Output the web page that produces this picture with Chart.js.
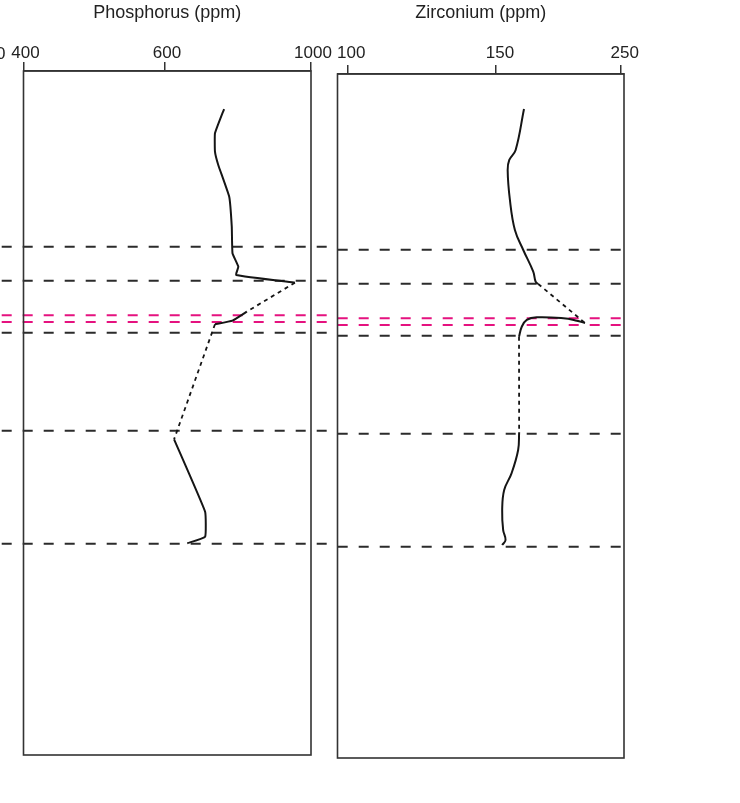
<!DOCTYPE html>
<html>
<head>
<meta charset="utf-8">
<script src="https://cdn.jsdelivr.net/npm/chart.js@4.4.1/dist/chart.umd.min.js"></script>
<style>
  html, body { margin: 0; padding: 0; background: #fff; }
  #wrap { position: relative; width: 740px; height: 803px; overflow: hidden; }
  .panel { position: absolute; top: 0; height: 803px; }
  #cutLabel { position: absolute; left: -4px; top: 44px; font: 17px "Liberation Sans", Arial, sans-serif; color: #222; }
</style>
</head>
<body>
<div id="wrap">
  <div class="panel" style="left:0;width:345px"><canvas id="phosphorusChartCanvas"></canvas></div>
  <div class="panel" style="left:320px;width:420px"><canvas id="zirconiumChartCanvas"></canvas></div>
  <div id="cutLabel">0</div>
</div>
<script>
// depth is in % of the log height (0 = top of box, 100 = bottom)
const boundaryDepths = [25.7, 30.65, 38.25, 52.6, 69.1];
const pinkDepths = [35.7, 36.7];

const phosphorusTicks = [400, 600, 1000];
const phosphorusDepth = [5.56, 9.11, 11.8, 13.74, 18.38, 22.76, 26.65, 28.61, 29.82, 30.95, 35.19, 36.5, 37.03, 53.85, 64.43, 68.08, 69.05];
const phosphorusPpm = [762, 737, 737, 746, 776, 783, 785, 801, 795, 956, 824, 785, 737, 625, 710, 710, 661];
// 1 = inferred (dotted) segment from point i to i+1
const phosphorusInferred = [0, 0, 0, 0, 0, 0, 0, 0, 0, 1, 0, 0, 1, 0, 0, 0];

const zirconiumTicks = [100, 150, 250];
const zirconiumDepth = [5.12, 11.11, 12.57, 14.04, 18.42, 22.81, 25.73, 28.9, 30.37, 30.7, 36.4, 36.07, 35.72, 35.57, 35.96, 36.95, 38.4, 52.38, 54.97, 58.38, 60.82, 63.74, 66.67, 68.13, 68.86];
const zirconiumPpm = [172.5, 165.8, 160.7, 159.4, 161.2, 165.2, 171.9, 179.9, 181.8, 183.9, 221.4, 214.8, 204.1, 182.7, 174.7, 170.7, 168.5, 168.6, 167.8, 162.5, 156.6, 155.0, 155.8, 157.7, 155.0];
const zirconiumInferred = [0, 0, 0, 0, 0, 0, 0, 0, 0, 1, 0, 0, 0, 0, 0, 0, 1, 0, 0, 0, 0, 0, 0, 0];

// the printed axes are not linear: value -> fraction of box width
const AXIS_KNOTS = {
    xP: [[400, 0], [600, 0.492], [1000, 1]],
    xZ: [[100, 0.0342], [150, 0.553], [250, 0.9885]]
};

class PiecewiseScale extends Chart.LinearScale {
    static id = 'piecewise';
    toDecimal(value) {
        const k = AXIS_KNOTS[this.id];
        let i = 1;
        while (i < k.length - 1 && value > k[i][0]) i++;
        const [v0, d0] = k[i - 1], [v1, d1] = k[i];
        return d0 + (value - v0) / (v1 - v0) * (d1 - d0);
    }
    getPixelForValue(value) {
        if (value === null || isNaN(value)) return NaN;
        return this.getPixelForDecimal(this.toDecimal(value));
    }
    getValueForPixel(pixel) {
        const d = this.getDecimalForPixel(pixel);
        const k = AXIS_KNOTS[this.id];
        let i = 1;
        while (i < k.length - 1 && d > k[i][1]) i++;
        const [v0, d0] = k[i - 1], [v1, d1] = k[i];
        return v0 + (d - d0) / (d1 - d0) * (v1 - v0);
    }
}
Chart.register(PiecewiseScale);

const FONT = '"Liberation Sans", Arial, sans-serif';
const INK = '#333';

function buildRuns(ppm, depth, inferred) {
    const runs = [];
    let cur = null;
    for (let i = 0; i < inferred.length; i++) {
        const dotted = !!inferred[i];
        if (!cur || cur.dotted !== dotted) {
            cur = { dotted, points: [{ x: ppm[i], y: depth[i] }] };
            runs.push(cur);
        }
        cur.points.push({ x: ppm[i + 1], y: depth[i + 1] });
    }
    return runs;
}

function makeDatasets(runs, axisId, tension) {
    return runs.map(r => ({
        data: r.points,
        xAxisID: axisId,
        yAxisID: 'y',
        borderColor: '#151515',
        borderWidth: r.dotted ? 1.8 : 2,
        borderDash: r.dotted ? [4, 4] : [],
        pointRadius: 0,
        tension: r.dotted ? 0 : tension,
        fill: false
    }));
}

const logBox = {
    id: 'logBox',
    beforeDatasetsDraw(chart, args, opts) {
        const { ctx, chartArea, scales } = chart;
        const y = scales.y;
        const to = opts.to === null ? chartArea.right : opts.to;
        ctx.save();
        ctx.lineWidth = 2;
        ctx.setLineDash([10, 11]);
        ctx.lineDashOffset = opts.dashOffset;
        const line = (d, color) => {
            const py = y.getPixelForValue(d);
            ctx.strokeStyle = color;
            ctx.beginPath();
            ctx.moveTo(opts.from, py);
            ctx.lineTo(to, py);
            ctx.stroke();
        };
        boundaryDepths.forEach(d => line(d, '#2b2b2b'));
        pinkDepths.forEach(d => line(d, '#e5127f'));
        ctx.restore();
    },
    afterDatasetsDraw(chart) {
        const { ctx, chartArea } = chart;
        ctx.save();
        ctx.strokeStyle = INK;
        ctx.lineWidth = 1.6;
        ctx.strokeRect(chartArea.left, chartArea.top, chartArea.right - chartArea.left, chartArea.bottom - chartArea.top);
        ctx.restore();
    }
};

function makeChart(canvas, opt) {
    return new Chart(canvas, {
        type: 'line',
        data: { datasets: makeDatasets(buildRuns(opt.ppm, opt.depth, opt.inferred), opt.axisId, opt.tension) },
        options: {
            responsive: true,
            maintainAspectRatio: false,
            animation: false,
            layout: { padding: opt.padding },
            plugins: {
                legend: { display: false },
                tooltip: { enabled: false },
                logBox: opt.lines
            },
            scales: {
                [opt.axisId]: {
                    type: 'piecewise',
                    position: 'top',
                    min: opt.min,
                    max: opt.max,
                    afterBuildTicks: scale => { scale.ticks = opt.ticks.map(v => ({ value: v })); },
                    afterFit: scale => { scale.height = opt.axisHeight; },
                    ticks: {
                        color: '#222',
                        font: { family: FONT, size: 17 },
                        padding: opt.tickPadding,
                        labelOffset: opt.labelOffset,
                        autoSkip: false,
                        maxRotation: 0,
                        callback: v => String(v)
                    },
                    grid: {
                        drawOnChartArea: false,
                        drawTicks: true,
                        tickLength: 9,
                        color: INK,
                        lineWidth: 1.5
                    },
                    border: { display: true, color: INK, width: 1.6 },
                    title: {
                        display: true,
                        text: opt.title,
                        color: '#222',
                        font: { family: FONT, size: 18 },
                        padding: { top: 2, bottom: 0 }
                    }
                },
                y: { type: 'linear', display: false, reverse: true, min: 0, max: 100 }
            }
        },
        plugins: [logBox]
    });
}

const phosphorusChart = makeChart(document.getElementById('phosphorusChartCanvas'), {
    axisId: 'xP',
    title: 'Phosphorus (ppm)',
    ppm: phosphorusPpm, depth: phosphorusDepth, inferred: phosphorusInferred,
    ticks: phosphorusTicks, min: 400, max: 1000,
    tension: 0.1,
    padding: { left: 23.5, right: 34, top: 0, bottom: 48 },
    axisHeight: 71,
    tickPadding: -2,
    labelOffset: 2,
    lines: { from: 0, to: 330, dashOffset: 19.3 }
});

const zirconiumChart = makeChart(document.getElementById('zirconiumChartCanvas'), {
    axisId: 'xZ',
    title: 'Zirconium (ppm)',
    ppm: zirconiumPpm, depth: zirconiumDepth, inferred: zirconiumInferred,
    ticks: zirconiumTicks, min: 96.7, max: 252.6,
    tension: 0.4,
    padding: { left: 17.5, right: 116, top: 0, bottom: 45 },
    axisHeight: 74,
    tickPadding: 1,
    labelOffset: 4,
    lines: { from: 10, to: null, dashOffset: 13.3 }
});
</script>
</body>
</html>
